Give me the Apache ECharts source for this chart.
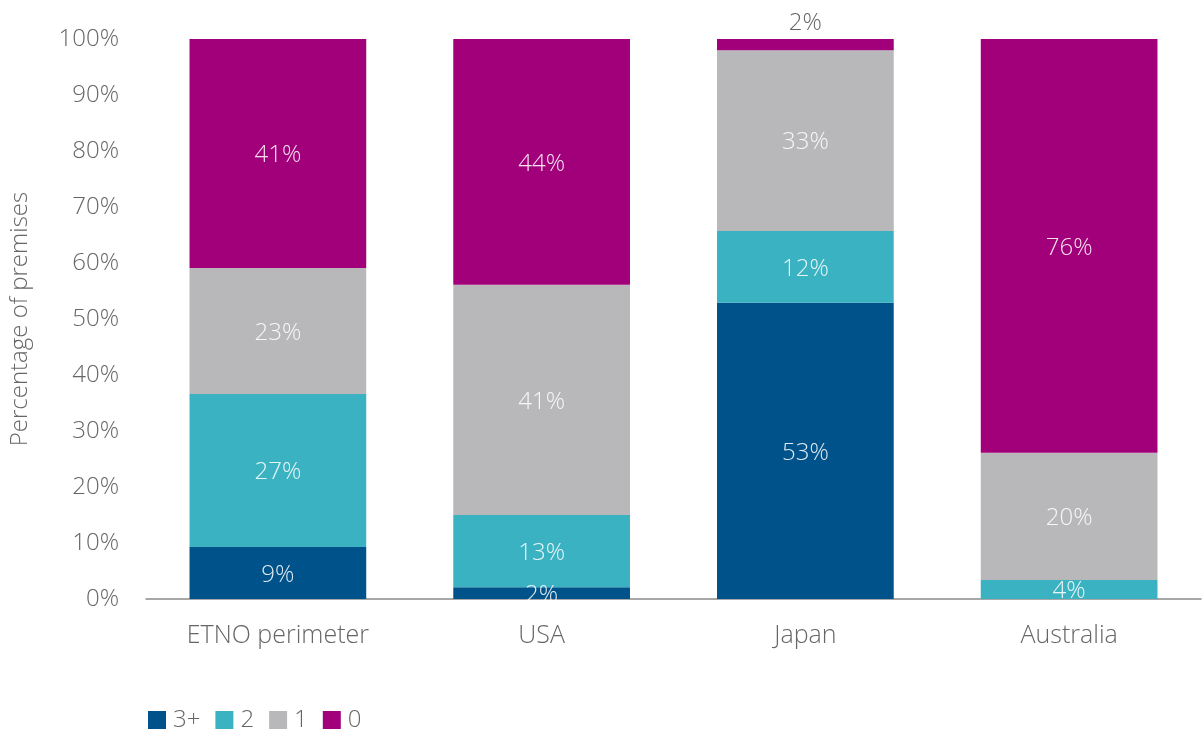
<!DOCTYPE html>
<html><head><meta charset="utf-8">
<script src="https://cdn.jsdelivr.net/npm/echarts@6/dist/echarts.min.js"></script>
<style>html,body{margin:0;padding:0;background:#fff}#c{width:1203px;height:729px}</style>
</head><body><div id="c"></div>
<script>
const categories = ['ETNO perimeter', 'USA', 'Japan', 'Australia'];
const seriesNames = ['3+', '2', '1', '0'];
const colors = ['#00528a', '#3bb2c1', '#b8b8ba', '#a2007a'];
const v3plus = [9.3, 2.1, 52.9, 0];
const v2 = [27.3, 12.9, 12.8, 3.4];
const v1 = [22.5, 41.1, 32.3, 22.7];
const v0 = [40.9, 43.9, 2.0, 73.9];
const l3plus = ['9%', '2%', '53%', ''];
const l2 = ['27%', '13%', '12%', '4%'];
const l1 = ['23%', '41%', '33%', '20%'];
const l0 = ['41%', '44%', '2%', '76%'];
const yTicks = [0, 10, 20, 30, 40, 50, 60, 70, 80, 90, 100];

const values = [v3plus, v2, v1, v0];
const labels = [l3plus, l2, l1, l0];
const font = 'Open Sans';
const fs = 24;
const chart = echarts.init(document.getElementById('c'));
chart.setOption({
  animation: false,
  grid: { left: 146, right: 2, top: 39, bottom: 130, containLabel: false },
  legend: {
    left: 143, top: 703, itemWidth: 18, itemHeight: 18, itemGap: 15,
    icon: 'rect',
    textStyle: { fontFamily: font, fontWeight: 300, fontSize: fs, color: '#666', padding: [0, 0, 0, 2] },
    data: seriesNames
  },
  xAxis: {
    type: 'category', data: categories,
    axisLine: { lineStyle: { color: '#8a8a8a', width: 1.5 } },
    axisTick: { show: false },
    axisLabel: { fontFamily: font, fontWeight: 300, fontSize: 25, color: '#666', margin: 24 }
  },
  yAxis: {
    type: 'value', min: 0, max: 100, interval: 10,
    name: 'Percentage of premises', nameLocation: 'middle', nameGap: 114, nameRotate: 90,
    nameTextStyle: { fontFamily: font, fontWeight: 300, fontSize: fs, color: '#666' },
    splitLine: { show: false }, axisLine: { show: false }, axisTick: { show: false },
    axisLabel: { fontFamily: font, fontWeight: 300, fontSize: fs, color: '#666', margin: 27,
      formatter: v => yTicks.includes(v) ? v + '%' : '' }
  },
  series: seriesNames.map((n, si) => ({
    name: n, type: 'bar', stack: 'all', barWidth: '67%',
    itemStyle: { color: colors[si] },
    data: values[si].map((v, i) => {
      const d = { value: v };
      if (si === 3 && i === 2) {
        d.label = { position: 'top', color: '#666', distance: 4, offset: [0, 0] };
      }
      return d;
    }),
    label: {
      show: true, position: 'inside', color: 'rgba(255,255,255,0.88)',
      fontFamily: font, fontWeight: 300, fontSize: fs, offset: [0, 2],
      formatter: p => labels[si][p.dataIndex]
    }
  }))
});
</script></body></html>
